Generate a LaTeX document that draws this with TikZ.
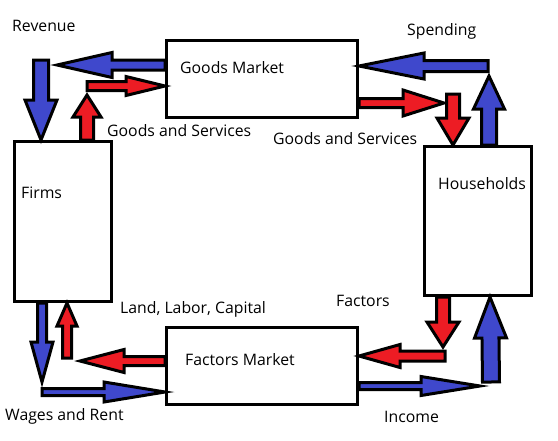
\documentclass[tikz,border=0pt]{standalone}
\usepackage{fontspec}
\setmainfont{Open Sans}
\usetikzlibrary{calc}
\definecolor{paintblue}{RGB}{63,72,204}
\definecolor{paintred}{RGB}{237,28,36}
% #1 style, #2 tail, #3 tip, #4 half shaft, #5 half head, #6 head length
\newcommand{\flowarrow}[6]{%
  \coordinate (hb) at ($(#3)!#6!(#2)$);
  \draw[#1] ($(#2)!#4!90:(#3)$) -- ($(hb)!#4!90:(#3)$) -- ($(hb)!#5!90:(#3)$) -- (#3)
    -- ($(hb)!#5!-90:(#3)$) -- ($(hb)!#4!-90:(#3)$) -- ($(#2)!#4!-90:(#3)$) -- cycle;
}

\begin{document}
\begin{tikzpicture}[x=1pt, y=-1pt, font=\fontsize{15.8}{18}\selectfont,
  market/.style={draw, line width=3pt, minimum width=191pt, minimum height=77pt},
  agent/.style={draw, line width=3pt},
  money/.style={draw, fill=paintblue, line width=3pt, line join=miter},
  goods/.style={draw, fill=paintred, line width=3pt, line join=miter},
  caption/.style={anchor=west, inner sep=0pt}]
    \useasboundingbox (0,0) rectangle (558,440);
    \node[market] (gm) at (262,79) {};
    \node[market] (fm) at (262,365.5) {};
    \node[agent, minimum width=97pt, minimum height=160pt] (firms) at (63,221.5) {};
    \node[agent, minimum width=107pt, minimum height=149pt] (hh) at (478,221) {};

    \node[caption] (gmtext) at (180,68) {Goods Market};
    \node[caption] (fmtext) at (185,360) {Factors Market};
    \node[caption] (firmstext) at (21,193) {Firms};
    \node[caption] (hhtext) at (438,184) {Households};
    \node[caption] (revenue) at (12,26) {Revenue};
    \node[caption] (spending) at (407,31) {Spending};
    \node[caption] (gsfirms) at (107,131) {Goods and Services};
    \node[caption] (gshh) at (273,139) {Goods and Services};
    \node[caption] (llc) at (120,309) {Land, Labor, Capital};
    \node[caption] (factors) at (336,301) {Factors};
    \node[caption] (wages) at (5,416) {Wages and Rent};
    \node[caption] (income) at (384,417) {Income};

    \coordinate (rev1) at ([yshift=14pt]gm.west);
    \coordinate (rev2) at (57,65);
    \coordinate (rev3) at (41,60);
    \coordinate (rev4) at ([xshift=-22pt]firms.north);
    \coordinate (gsf1) at ([xshift=24pt]firms.north);
    \coordinate (gsf2) at (87,95);
    \coordinate (gsf3) at (87,86);
    \coordinate (gsf4) at ([yshift=-7pt]gm.west);
    \coordinate (spd1) at ([xshift=11pt]hh.north);
    \coordinate (spd2) at (489,76);
    \coordinate (spd3) at (488,66);
    \coordinate (spd4) at ([yshift=13pt]gm.east);
    \coordinate (gsh1) at ([yshift=-24pt]gm.east);
    \coordinate (gsh2) at (444,103);
    \coordinate (gsh3) at (453,94);
    \coordinate (gsh4) at ([xshift=-25pt]hh.north);
    \coordinate (wag1) at ([xshift=-21pt]firms.south);
    \coordinate (wag2) at (42,382);
    \coordinate (wag3) at (42,392);
    \coordinate (wag4) at ([yshift=-26.5pt]fm.west);
    \coordinate (llc1) at ([yshift=4.5pt]fm.west);
    \coordinate (llc2) at (80,361);
    \coordinate (llc3) at (67,358);
    \coordinate (llc4) at ([xshift=4pt]firms.south);
    \coordinate (fac1) at ([xshift=-35pt]hh.south);
    \coordinate (fac2) at (443,347);
    \coordinate (fac3) at (445,356);
    \coordinate (fac4) at ([yshift=9.5pt]fm.east);
    \coordinate (inc1) at ([yshift=-20.5pt]fm.east);
    \coordinate (inc2) at (480,386);
    \coordinate (inc3) at (491,382);
    \coordinate (inc4) at ([xshift=12pt]hh.south);

    \flowarrow{money}{rev1}{rev2}{5pt}{12.5pt}{55pt}
    \flowarrow{money}{rev3}{rev4}{7.5pt}{16pt}{40pt}
    \flowarrow{goods}{gsf1}{gsf2}{6.5pt}{14pt}{22pt}
    \flowarrow{goods}{gsf3}{gsf4}{4.5pt}{9.5pt}{39pt}
    \flowarrow{money}{spd1}{spd2}{7.5pt}{15.5pt}{33pt}
    \flowarrow{money}{spd3}{spd4}{5.5pt}{13pt}{65pt}
    \flowarrow{goods}{gsh1}{gsh2}{4.5pt}{13pt}{41pt}
    \flowarrow{goods}{gsh3}{gsh4}{6.5pt}{16pt}{27pt}
    \flowarrow{money}{wag1}{wag2}{4.5pt}{11pt}{40pt}
    \flowarrow{money}{wag3}{wag4}{3.5pt}{10pt}{61pt}
    \flowarrow{goods}{llc1}{llc2}{4.5pt}{11.5pt}{44pt}
    \flowarrow{goods}{llc3}{llc4}{4.5pt}{10pt}{23pt}
    \flowarrow{goods}{fac1}{fac2}{6.5pt}{16pt}{25pt}
    \flowarrow{goods}{fac3}{fac4}{5pt}{11.5pt}{41pt}
    \flowarrow{money}{inc1}{inc2}{3.5pt}{9.5pt}{59pt}
    \flowarrow{money}{inc3}{inc4}{8.5pt}{16pt}{41pt}
\end{tikzpicture}
\end{document}
